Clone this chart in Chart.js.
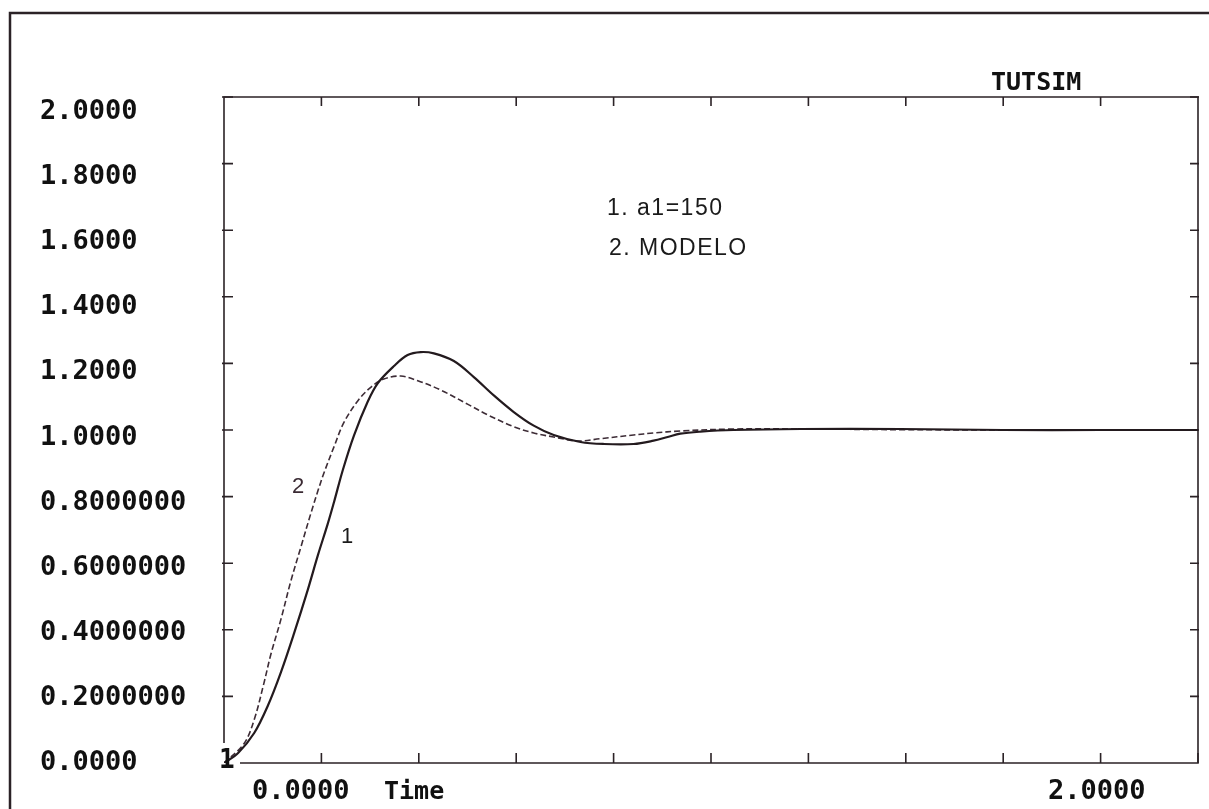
<!DOCTYPE html>
<html>
<head>
<meta charset="utf-8">
<script src="https://cdn.jsdelivr.net/npm/chart.js@4.4.0/dist/chart.umd.min.js"></script>
<style>
html,body{margin:0;padding:0;background:#fff;}
#wrap{position:relative;width:1209px;height:809px;}
</style>
</head>
<body>
<div id="wrap"><canvas id="c" width="1209" height="809"></canvas></div>
<script>
// ---- data ----
const time1 = [0, 0.029, 0.062, 0.090, 0.117, 0.144, 0.172, 0.193, 0.213, 0.226, 0.244, 0.267, 0.295, 0.316, 0.349, 0.377, 0.404, 0.431, 0.472, 0.513, 0.554, 0.595, 0.636, 0.677, 0.732, 0.78, 0.841, 0.882, 0.911, 0.937, 0.978, 1.046, 1.184, 1.389, 1.6, 1.8, 2.0];
const series1 = [0, 0.030, 0.090, 0.172, 0.273, 0.390, 0.520, 0.625, 0.718, 0.784, 0.880, 0.984, 1.085, 1.141, 1.192, 1.225, 1.234, 1.230, 1.207, 1.159, 1.104, 1.054, 1.013, 0.985, 0.964, 0.958, 0.958, 0.968, 0.979, 0.989, 0.995, 1.000, 1.003, 1.003, 1.0, 1.0, 1.0];
const time2 = [0, 0.041, 0.062, 0.082, 0.096, 0.117, 0.137, 0.158, 0.178, 0.193, 0.205, 0.226, 0.246, 0.275, 0.302, 0.328, 0.363, 0.398, 0.445, 0.501, 0.542, 0.595, 0.636, 0.677, 0.726, 0.773, 0.841, 0.882, 0.937, 1.046, 1.184, 1.389, 1.6, 1.8, 2.0];
const series2 = [0, 0.058, 0.130, 0.240, 0.325, 0.432, 0.545, 0.649, 0.748, 0.818, 0.870, 0.950, 1.022, 1.088, 1.129, 1.153, 1.162, 1.148, 1.120, 1.077, 1.045, 1.010, 0.991, 0.979, 0.967, 0.974, 0.985, 0.991, 0.997, 1.003, 1.003, 1.001, 1.0, 1.0, 1.0];
const yTickValues = [2.0, 1.8, 1.6, 1.4, 1.2, 1.0, 0.8, 0.6, 0.4, 0.2, 0.0];
const yTickLabels = ["2.0000", "1.8000", "1.6000", "1.4000", "1.2000", "1.0000", "0.8000000", "0.6000000", "0.4000000", "0.2000000", "0.0000"];
const xTickValues = [0, 0.2, 0.4, 0.6, 0.8, 1.0, 1.2, 1.4, 1.6, 1.8, 2.0];
const xAxisLabels = ["0.0000", "Time", "2.0000"];
const legendLines = ["1. a1=150", "2. MODELO"];
const title = "TUTSIM";

const INK = '#2b2226';
const pts = (xs, ys) => xs.map((x, i) => ({x: x, y: ys[i]}));

const framePlugin = {
  id: 'tutsimFrame',
  beforeDatasetsDraw(chart) {
    const ctx = chart.ctx;
    const xs = chart.scales.x, ys = chart.scales.y;
    const L = xs.getPixelForValue(0), R = xs.getPixelForValue(2);
    const T = ys.getPixelForValue(2), B = ys.getPixelForValue(0);
    ctx.save();
    ctx.strokeStyle = INK;
    // outer page frame
    ctx.lineWidth = 2.5;
    ctx.beginPath();
    ctx.moveTo(10, 809); ctx.lineTo(10, 13); ctx.lineTo(1209, 13);
    ctx.stroke();
    // plot box
    ctx.lineWidth = 1.6;
    ctx.beginPath();
    ctx.moveTo(L, B - 20); ctx.lineTo(L, T); ctx.lineTo(R, T); ctx.lineTo(R, B); ctx.lineTo(L + 16, B);
    ctx.stroke();
    // ticks
    ctx.beginPath();
    yTickValues.forEach(v => {
      if (v === 0) return;
      const py = ys.getPixelForValue(v);
      ctx.moveTo(L - 2, py); ctx.lineTo(L + 9, py);
      ctx.moveTo(R + 1, py); ctx.lineTo(R - 8, py);
    });
    xTickValues.forEach(v => {
      const px = xs.getPixelForValue(v);
      if (v > 0 && v < 2) { ctx.moveTo(px, T); ctx.lineTo(px, T + 9); }
      if (v > 0) { ctx.moveTo(px, B); ctx.lineTo(px, B - 10); }
    });
    ctx.stroke();
    ctx.restore();
  },
  afterDraw(chart) {
    const ctx = chart.ctx;
    const xs = chart.scales.x, ys = chart.scales.y;
    ctx.save();
    ctx.fillStyle = '#111';
    ctx.textBaseline = 'middle';
    ctx.textAlign = 'left';
    ctx.font = 'bold 27px "DejaVu Sans Mono"';
    yTickValues.forEach((v, i) => {
      const py = ys.getPixelForValue(v) + 7.5 * v;
      ctx.fillText(yTickLabels[i], 40, py);
    });
    ctx.textBaseline = 'alphabetic';
    ctx.fillText(xAxisLabels[0], 252, 799);
    ctx.fillText(xAxisLabels[2], 1048, 799);
    ctx.font = 'bold 25px "DejaVu Sans Mono"';
    ctx.fillText(xAxisLabels[1], 384, 799);
    ctx.fillText(title, 991, 90);
    // start marker
    ctx.font = 'bold 26px "DejaVu Sans Mono"';
    ctx.fillText('1', 219, 768);
    // legend
    ctx.fillStyle = '#1a1a1a';
    ctx.font = '23px "Liberation Sans"';
    ctx.letterSpacing = '1.5px';
    ctx.fillText(legendLines[0], 607, 215);
    ctx.fillText(legendLines[1], 609, 255);
    // curve labels
    ctx.letterSpacing = '0px';
    ctx.font = '22px "Liberation Sans"';
    ctx.fillStyle = '#3a2a33';
    ctx.fillText('2', 292, 493);
    ctx.fillStyle = '#1a1a1a';
    ctx.fillText('1', 341, 543);
    ctx.restore();
  }
};

new Chart(document.getElementById('c'), {
  type: 'line',
  data: {
    datasets: [
      {label: legendLines[0], data: pts(time1, series1), borderColor: '#231a1e', borderWidth: 2.2,
       pointRadius: 0, tension: 0.35, fill: false},
      {label: legendLines[1], data: pts(time2, series2), borderColor: '#3d2c36', borderWidth: 1.6,
       borderDash: [6, 3], pointRadius: 0, tension: 0.35, fill: false}
    ]
  },
  options: {
    responsive: false,
    animation: false,
    layout: {padding: {left: 224, right: 11, top: 97, bottom: 46}},
    plugins: {legend: {display: false}, tooltip: {enabled: false}},
    scales: {
      x: {type: 'linear', min: 0, max: 2, display: false},
      y: {type: 'linear', min: 0, max: 2, display: false}
    }
  },
  plugins: [framePlugin]
});
</script>
</body>
</html>
